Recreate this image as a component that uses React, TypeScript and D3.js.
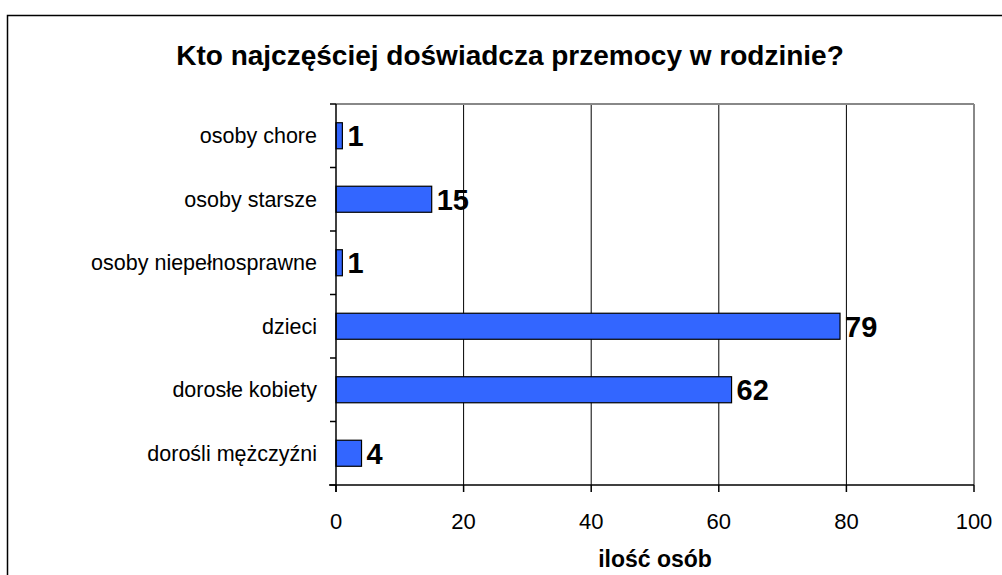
import React from 'react'
import * as d3 from 'd3'

// chart data
const categories = [
  'osoby chore',
  'osoby starsze',
  'osoby niepełnosprawne',
  'dzieci',
  'dorosłe kobiety',
  'dorośli mężczyźni',
]
const values = [1, 15, 1, 79, 62, 4]
const xTicks = [0, 20, 40, 60, 80, 100]
const title = 'Kto najczęściej doświadcza przemocy w rodzinie?'
const xTitle = 'ilość osób'

const W = 1002
const H = 575
const font = '"Liberation Sans", Arial, sans-serif'

export default function App() {
  const margin = { top: 104, right: 28, bottom: 90, left: 336 }
  const innerW = W - margin.left - margin.right
  const innerH = H - margin.top - margin.bottom

  const x = d3.scaleLinear().domain([0, 100]).range([0, innerW])
  const y = d3
    .scaleBand<string>()
    .domain(categories)
    .range([0, innerH])
    .paddingInner(0.59)
    .paddingOuter(0.295)

  const step = innerH / categories.length

  return (
    <div style={{ position: 'absolute', left: 0, top: 0 }}>
      <svg width={W} height={H} style={{ display: 'block', fontFamily: font }}>
        <rect x={0} y={0} width={W} height={H} fill="#fff" />
        {/* outer frame, cut off at right and bottom */}
        <rect x={7.5} y={15.5} width={1020} height={600} fill="none" stroke="#000" strokeWidth={1.5} />

        <text x={510} y={65} textAnchor="middle" fontSize={28} fontWeight="bold">
          {title}
        </text>

        <g transform={`translate(${margin.left},${margin.top})`}>
          {/* grid lines */}
          {xTicks.slice(1, -1).map((t) => (
            <line key={t} x1={x(t)} x2={x(t)} y1={0} y2={innerH} stroke="#000" strokeWidth={1} />
          ))}
          {/* plot border top/right */}
          <line x1={0} x2={innerW} y1={0} y2={0} stroke="#888" strokeWidth={2} />
          <line x1={innerW} x2={innerW} y1={0} y2={innerH} stroke="#888" strokeWidth={2} />

          {/* bars */}
          {categories.map((c, i) => (
            <g key={c}>
              <rect
                x={x(0)}
                y={y(c)}
                width={x(values[i]) - x(0)}
                height={y.bandwidth()}
                fill="#3366ff"
                stroke="#000"
                strokeWidth={1.2}
              />
              <text
                x={x(values[i]) + 5}
                y={(y(c) ?? 0) + y.bandwidth() / 2}
                dy="0.36em"
                fontSize={29}
                fontWeight="bold"
              >
                {values[i]}
              </text>
              <text
                x={-19}
                y={(y(c) ?? 0) + y.bandwidth() / 2}
                dy="0.36em"
                textAnchor="end"
                fontSize={21.5}
              >
                {c}
              </text>
            </g>
          ))}

          {/* y axis */}
          <line x1={0} x2={0} y1={0} y2={innerH + 7} stroke="#000" strokeWidth={1.5} />
          {d3.range(categories.length + 1).map((i) => (
            <line key={i} x1={-6} x2={0} y1={i * step} y2={i * step} stroke="#000" strokeWidth={1.5} />
          ))}

          {/* x axis */}
          <line x1={-7} x2={innerW} y1={innerH} y2={innerH} stroke="#000" strokeWidth={1.5} />
          {xTicks.map((t) => (
            <g key={t} transform={`translate(${x(t)},${innerH})`}>
              <line y1={0} y2={7} stroke="#000" strokeWidth={1.5} />
              <text y={44} textAnchor="middle" fontSize={22}>
                {t}
              </text>
            </g>
          ))}
          <text x={innerW / 2} y={innerH + 82} textAnchor="middle" fontSize={23} fontWeight="bold">
            {xTitle}
          </text>
        </g>
      </svg>
    </div>
  )
}
